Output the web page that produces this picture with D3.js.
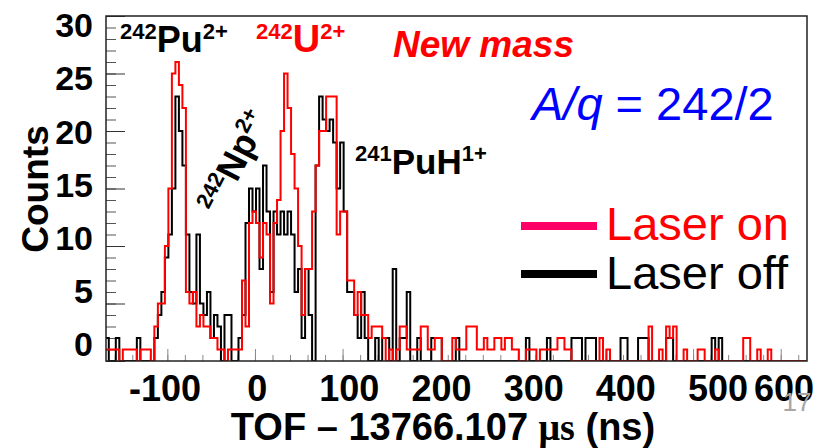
<!DOCTYPE html>
<html>
<head>
<meta charset="utf-8">
<script src="https://cdn.jsdelivr.net/npm/d3@7"></script>
<style>
  body { margin: 0; background: #fff; }
  svg { display: block; font-family: "Liberation Sans", Arial, sans-serif; }
</style>
</head>
<body>
<div id="chart"></div>
<script>
// histogram: 4 ns bins starting at binStart
const binStart = -170.8;
const binWidth = 4;

// laser on (red)
const laserOn = [
  1,1,1,1,0,1,1,1,1,0, 1,1,1,0,3,5,5,10,15,25,
  26,24,22,6,5,6,3,4,3,3, 2,2,1,1,0,1,1,1,1,7,
  3,12,13,12,9,12,11,5,12,14, 20,25,22,18,15,10,4,8,8,13,
  17,20,20,23,23,23,11,13,13,7, 7,4,6,4,4,2,3,3,3,2,
  0,1,0,1,3,3,1,1,1,1, 3,3,1,1,2,2,0,0,0,2,
  1,1,1,3,3,3,1,1,2,1, 1,2,2,1,2,2,1,1,0,0,
  1,1,1,0,1,1,1,1,1,2, 2,1,1,0,0,0,0,0,0,0,
  0,2,0,1,0,0,0,0,0,0, 0,0,0,0,0,3,0,0,1,0,
  3,2,3,0,0,1,0,0,0,1, 1,0,0,0,1,0,0,0,0,0,
  0,0,2,2,0,0,1,0,0,1, 0,0,0,0,0,0,0,0,0,0
];

// laser off (black)
const laserOff = [
  2,0,0,2,0,0,0,0,0,2, 0,0,0,0,2,4,6,9,11,15,
  23,20,17,11,6,5,11,5,4,6, 2,4,3,0,4,4,0,0,2,4,
  12,15,13,15,8,17,13,6,13,11, 13,11,13,11,6,8,2,8,4,0,
  17,23,21,20,21,19,15,19,13,6, 6,4,2,6,2,0,0,2,0,2,
  2,0,8,0,2,2,6,0,0,2, 0,0,0,2,2,2,0,0,0,0,
  2,0,0,0,0,0,0,0,0,0, 0,0,0,0,0,0,0,0,0,0,
  2,0,0,0,0,0,2,0,0,0, 0,0,0,2,2,2,0,2,2,2,
  0,0,0,0,0,0,0,2,2,0, 0,0,2,2,2,0,0,0,0,0,
  2,2,0,0,0,0,0,0,0,0, 0,0,0,2,0,2,0,0,0,0,
  0,0,0,0,0,0,0,0,0,0, 0,0,0,0,0,0,0,0,0,0
];

const xTickLabels = [-100, 0, 100, 200, 300, 400, 500, 600];
const yTickLabels = [0, 5, 10, 15, 20, 25, 30];

const W = 813, H = 448;
const frame = {left: 106, right: 807, top: 16, bottom: 361};

const x = d3.scaleLinear().domain([-170, 630]).range([frame.left, frame.right]);
const y = d3.scaleLinear().domain([0, 30]).range([frame.bottom, frame.top]);

// slide overlay labels sit slightly off the real ticks
const xLab = d3.scaleLinear().domain([-100, 500, 600]).range([165, 718, 784]);
const yLab = d3.scaleLinear().domain([0, 30]).range([344, 25]);

const svg = d3.select("#chart").append("svg")
    .attr("width", W)
    .attr("height", H);

svg.append("defs").append("clipPath").attr("id", "clip")
  .append("rect")
    .attr("x", frame.left).attr("y", frame.top - 2)
    .attr("width", frame.right - frame.left)
    .attr("height", frame.bottom - frame.top + 2);

// ticks
svg.append("g")
    .attr("transform", `translate(${frame.left},0)`)
    .call(d3.axisRight(y).tickValues(d3.range(0, 31, 1)).tickSize(10).tickSizeOuter(0).tickFormat(""))
    .call(g => g.select(".domain").remove())
    .call(g => g.selectAll("line").attr("stroke", "#555"));
svg.append("g")
    .attr("transform", `translate(${frame.left},0)`)
    .call(d3.axisRight(y).tickValues(d3.range(0, 31, 5)).tickSize(19).tickSizeOuter(0).tickFormat(""))
    .call(g => g.select(".domain").remove())
    .call(g => g.selectAll("line").attr("stroke", "#333"));

svg.append("g")
    .attr("transform", `translate(0,${frame.bottom})`)
    .call(d3.axisTop(x).tickValues(d3.range(-160, 631, 20)).tickSize(6).tickSizeOuter(0).tickFormat(""))
    .call(g => g.select(".domain").remove())
    .call(g => g.selectAll("line").attr("stroke", "#888"));
svg.append("g")
    .attr("transform", `translate(0,${frame.bottom})`)
    .call(d3.axisTop(x).tickValues(d3.range(-100, 601, 100)).tickSize(12).tickSizeOuter(0).tickFormat(""))
    .call(g => g.select(".domain").remove())
    .call(g => g.selectAll("line").attr("stroke", "#888"));

// histograms
function stepPath(vals) {
  let d = "";
  vals.forEach((v, i) => {
    const x0 = x(binStart + i * binWidth), x1 = x(binStart + (i + 1) * binWidth);
    d += (i === 0 ? `M${x0},${y(v)}` : `V${y(v)}`) + `H${x1}`;
  });
  return d;
}

const plot = svg.append("g").attr("clip-path", "url(#clip)");
plot.append("path")
    .attr("d", stepPath(laserOff))
    .attr("fill", "none")
    .attr("stroke", "#000")
    .attr("stroke-width", 2);
plot.append("path")
    .attr("d", stepPath(laserOn))
    .attr("fill", "none")
    .attr("stroke", "#ff0000")
    .attr("stroke-width", 2);

// frame
svg.append("rect")
    .attr("x", frame.left).attr("y", frame.top)
    .attr("width", frame.right - frame.left)
    .attr("height", frame.bottom - frame.top)
    .attr("fill", "none")
    .attr("stroke", "#222")
    .attr("stroke-width", 1.5);

// tick labels
svg.append("g").selectAll("text")
  .data(yTickLabels)
  .join("text")
    .attr("x", 93)
    .attr("y", d => yLab(d))
    .attr("dy", "0.36em")
    .attr("text-anchor", "end")
    .attr("font-weight", "bold")
    .attr("font-size", 34)
    .text(d => d);

svg.append("g").selectAll("text")
  .data(xTickLabels)
  .join("text")
    .attr("x", d => xLab(d))
    .attr("y", 401)
    .attr("text-anchor", "middle")
    .attr("font-weight", "bold")
    .attr("font-size", 36)
    .text(d => d);

svg.append("text")
    .attr("transform", "translate(48,189) rotate(-90)")
    .attr("text-anchor", "middle")
    .attr("font-weight", "bold")
    .attr("font-size", 37)
    .text("Counts");

const xt = svg.append("text")
    .attr("x", 443)
    .attr("y", 440)
    .attr("text-anchor", "middle")
    .attr("font-weight", "bold")
    .attr("font-size", 38);
xt.append("tspan").text("TOF \u2013 13766.107 ");
xt.append("tspan").attr("font-family", "Liberation Serif, serif").text("\u03bcs");
xt.append("tspan").text(" (ns)");

// page number
svg.append("text")
    .attr("x", 797).attr("y", 411)
    .attr("text-anchor", "middle")
    .attr("font-size", 26)
    .attr("fill", "#a6a6a6")
    .text("17");

// isotope labels
function isotope(g, mass, sym, charge, color, big) {
  const t = g.append("text").attr("font-weight", "bold").attr("fill", color);
  t.append("tspan").attr("font-size", 22).attr("dy", -13).text(mass);
  t.append("tspan").attr("font-size", big).attr("dy", 13).text(sym);
  t.append("tspan").attr("font-size", 22).attr("dy", -13).text(charge);
  return t;
}
isotope(svg.append("g").attr("transform", "translate(120,52)"), "242", "Pu", "2+", "#000", 36);
isotope(svg.append("g").attr("transform", "translate(256,52)"), "242", "U", "2+", "#ff0000", 38);
isotope(svg.append("g").attr("transform", "translate(355,174)"), "241", "PuH", "1+", "#000", 35);
isotope(svg.append("g").attr("transform", "translate(220,216) rotate(-63)"), "242", "Np", "2+", "#000", 36);

svg.append("text")
    .attr("x", 393).attr("y", 57)
    .attr("font-weight", "bold")
    .attr("font-style", "italic")
    .attr("font-size", 37)
    .attr("fill", "#ff0000")
    .text("New mass");

const aq = svg.append("text")
    .attr("x", 532).attr("y", 120)
    .attr("font-size", 47)
    .attr("fill", "#0000ff");
aq.append("tspan").attr("font-style", "italic").text("A/q");
aq.append("tspan").text(" = 242/2");

// legend
const legend = [
  {label: "Laser on", line: "#ff0066", text: "#ff0000", y: 226, base: 240},
  {label: "Laser off", line: "#000000", text: "#000000", y: 274, base: 289}
];
const lg = svg.append("g");
lg.selectAll("line")
  .data(legend)
  .join("line")
    .attr("x1", 521).attr("x2", 597)
    .attr("y1", d => d.y).attr("y2", d => d.y)
    .attr("stroke", d => d.line)
    .attr("stroke-width", 8);
lg.selectAll("text")
  .data(legend)
  .join("text")
    .attr("x", 606)
    .attr("y", d => d.base)
    .attr("font-size", 47)
    .attr("fill", d => d.text)
    .text(d => d.label);
</script>
</body>
</html>
